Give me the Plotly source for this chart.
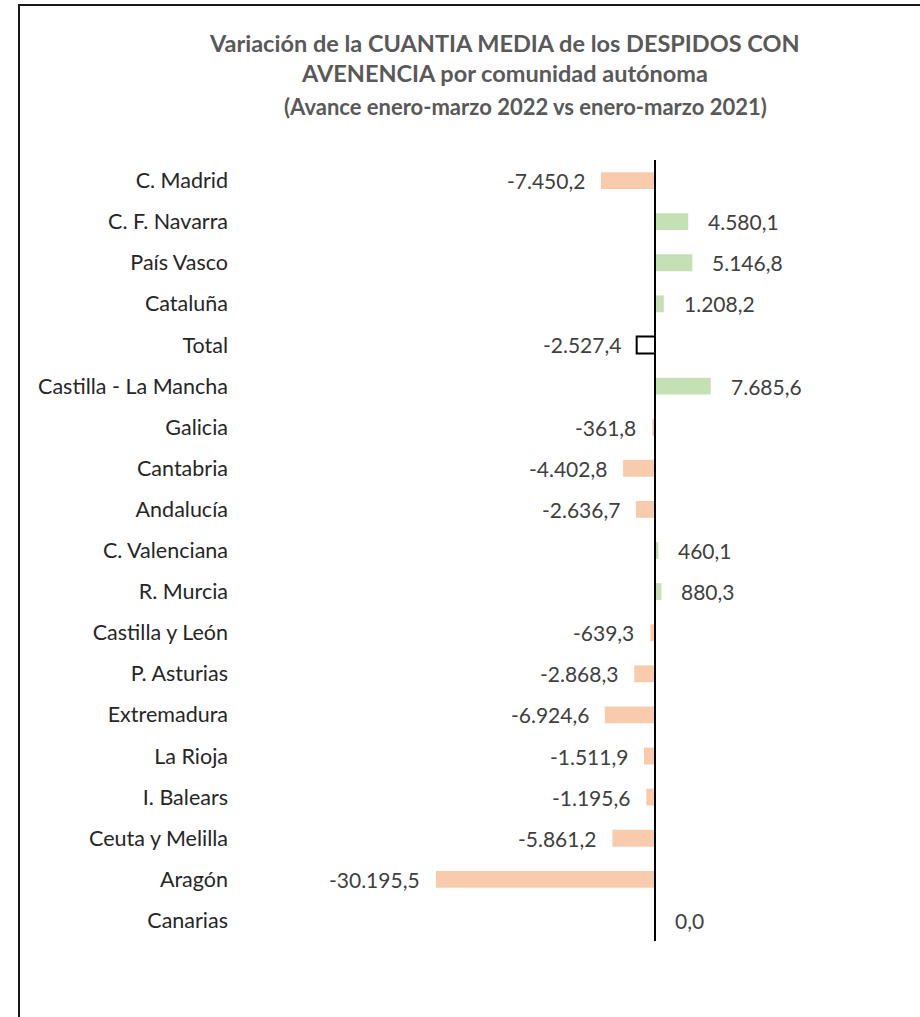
import plotly.graph_objects as go

categories = ["C. Madrid", "C. F. Navarra", "País Vasco", "Cataluña", "Total",
              "Castilla - La Mancha", "Galicia", "Cantabria", "Andalucía",
              "C. Valenciana", "R. Murcia", "Castilla y León", "P. Asturias",
              "Extremadura", "La Rioja", "I. Balears", "Ceuta y Melilla",
              "Aragón", "Canarias"]
values = [-7450.2, 4580.1, 5146.8, 1208.2, -2527.4, 7685.6, -361.8, -4402.8,
          -2636.7, 460.1, 880.3, -639.3, -2868.3, -6924.6, -1511.9, -1195.6,
          -5861.2, -30195.5, 0.0]


def fmt_es(v):
    s = f"{v:,.1f}"
    return s.replace(",", "X").replace(".", ",").replace("X", ".")


labels = [fmt_es(v) for v in values]

W, H = 920, 1017
L, R = 240, 880
T = 160
B = 1017 - 941
zero_px = 655
scale = 219 / 30195.5  # px per unit
xmin = -(zero_px - L) / scale
xmax = (R - zero_px) / scale

NEG = "#F8CBAD"
POS = "#C5E0B4"
colors, line_w, line_c = [], [], []
for c, v in zip(categories, values):
    if c == "Total":
        colors.append("#FFFFFF"); line_w.append(2); line_c.append("#000000")
    else:
        colors.append(NEG if v < 0 else POS); line_w.append(0); line_c.append("rgba(0,0,0,0)")

FONT = "Lato"
TXT = "#404040"

fig = go.Figure(go.Bar(
    x=values, y=categories, orientation="h",
    marker=dict(color=colors, line=dict(width=line_w, color=line_c)),
    hoverinfo="skip",
))

annotations = []
for c, v, lab in zip(categories, values, labels):
    annotations.append(dict(
        x=v, y=c, xref="x", yref="y", text=lab, showarrow=False,
        xanchor="right" if v < 0 else "left",
        xshift=-14 if v < 0 else 18,
        font=dict(family=FONT, size=21, color=TXT),
    ))


def px2paper_x(px):
    return (px - L) / (R - L)


def px2paper_y(py):
    return 1 - (py - T) / (H - T - B)


annotations += [
    dict(x=px2paper_x(504), y=px2paper_y(43), xref="paper", yref="paper",
         text="<b>Variación de la CUANTIA MEDIA de los DESPIDOS CON</b>", showarrow=False,
         font=dict(family=FONT, size=23.5, color="#595959"), xanchor="center", yanchor="middle"),
    dict(x=px2paper_x(504), y=px2paper_y(73), xref="paper", yref="paper",
         text="<b>AVENENCIA por comunidad autónoma</b>", showarrow=False,
         font=dict(family=FONT, size=23.5, color="#595959"), xanchor="center", yanchor="middle"),
    dict(x=px2paper_x(525), y=px2paper_y(107), xref="paper", yref="paper",
         text="<b>(Avance enero-marzo 2022 vs enero-marzo 2021)</b>", showarrow=False,
         font=dict(family=FONT, size=22, color="#595959"), xanchor="center", yanchor="middle"),
]

shapes = [
    dict(type="line", xref="x", yref="paper", x0=0, x1=0, y0=0, y1=1,
         line=dict(color="#000000", width=2)),
    dict(type="rect", xref="paper", yref="paper",
         x0=px2paper_x(19), x1=px2paper_x(940), y0=px2paper_y(5), y1=px2paper_y(1040),
         line=dict(color="#1a1a1a", width=2), fillcolor="rgba(0,0,0,0)", layer="above"),
]

fig.update_layout(
    width=W, height=H,
    margin=dict(l=L, r=W - R, t=T, b=B),
    paper_bgcolor="#FFFFFF", plot_bgcolor="#FFFFFF",
    bargap=0.59,
    showlegend=False,
    annotations=annotations,
    shapes=shapes,
    xaxis=dict(range=[xmin, xmax], showgrid=False, zeroline=False,
               showticklabels=False, showline=False, fixedrange=True),
    yaxis=dict(autorange="reversed", showgrid=False, zeroline=False,
               showline=False, ticks="", ticklabelstandoff=11,
               tickfont=dict(family=FONT, size=21.5, color="#262626")),
)

fig.write_html("out.html",
               config={"displayModeBar": False},
               post_script="document.body.style.margin='0';document.body.style.overflow='hidden';")
